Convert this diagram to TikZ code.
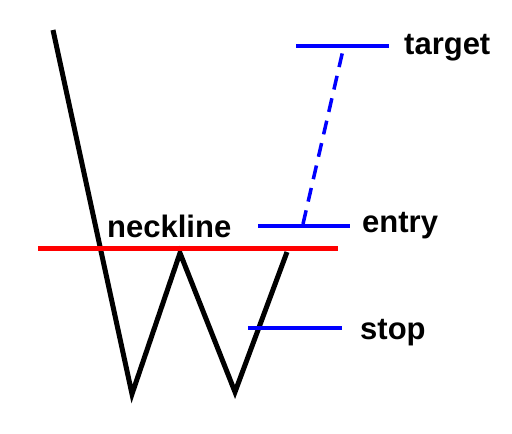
\documentclass[tikz,border=0pt]{standalone}
\usepackage{fontspec}
\setmainfont{Liberation Sans}
\usetikzlibrary{positioning}

\begin{document}
\begin{tikzpicture}[
      x=1pt, y=-1pt,
      price/.style={line width=5pt, black, line join=miter},
      level/.style={line width=4pt, blue},
      neck/.style={line width=5pt, red},
      every node/.style={font=\bfseries\fontsize{31}{35}\selectfont, inner sep=0pt, anchor=base west}]

      \useasboundingbox[fill=white] (0,0) rectangle (512,434);

      % price path
      \coordinate (P0) at (53,30);
      \coordinate (P1) at (132,394);
      \coordinate (P2) at (180,253);
      \coordinate (P3) at (235,392);
      \coordinate (P4) at (287,252);
      \draw[price] (P0) -- (P1) -- (P2) -- (P3) -- (P4);

      % neckline
      \coordinate (NL) at (38,248);
      \coordinate (NR) at (338,248);
      \draw[neck] (NL) -- (NR);
      \node (neckline) at (107,237) {neckline};

      % levels
      \coordinate (TL) at (296,46);  \coordinate (TR) at (389,46);
      \coordinate (EL) at (258,226); \coordinate (ER) at (350,226);
      \coordinate (SL) at (248,328); \coordinate (SR) at (342,328);
      \draw[level] (TL) -- (TR);
      \draw[level] (EL) -- (ER);
      \draw[level] (SL) -- (SR);
      \node (target) at (404,54) {target};
      \node (entry) at (362,232) {entry};
      \node (stop) at (360,339) {stop};

      % projection
      \coordinate (T0) at (343,50);
      \coordinate (E0) at (303,224);
      \draw[level, line width=3.5pt, dash pattern=on 14pt off 9pt] (E0) -- (T0);
    \end{tikzpicture}
\end{document}
